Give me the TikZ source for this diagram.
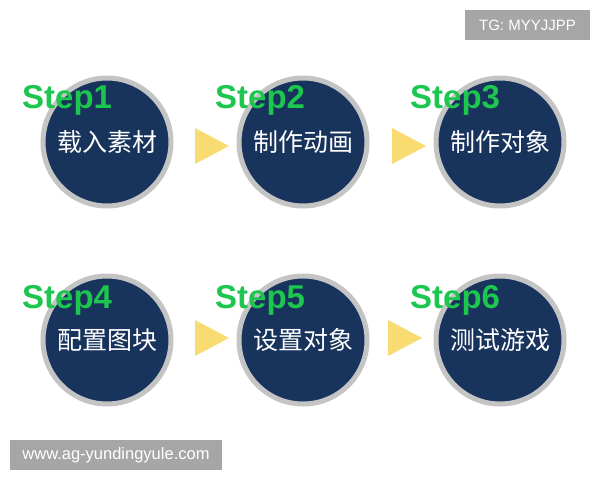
\documentclass[tikz,border=0pt]{standalone}
\usepackage{fontspec}
\setmainfont{Liberation Sans}
\newfontfamily\cjk{Noto Sans CJK SC}
\definecolor{navy}{HTML}{18335C}
\definecolor{ring}{HTML}{C4C4C4}
\definecolor{stepgreen}{HTML}{1DC64E}
\definecolor{tri}{HTML}{F8DC72}
\definecolor{tag}{HTML}{A6A6A6}
\begin{document}
\begin{tikzpicture}[x=1pt,y=-1pt,
  stepcircle/.style={circle,fill=navy,draw=ring,line width=5pt,minimum size=128pt,inner sep=0pt,text=white,font=\cjk\fontsize{25}{25}\selectfont},
  steplabel/.style={anchor=west,text=stepgreen,font=\bfseries\fontsize{33}{33}\selectfont,inner sep=0pt},
  arrowtri/.style={fill=tri,draw=none},
  tagbox/.style={fill=tag,text=white,inner sep=0pt}]
\useasboundingbox (0,0) rectangle (600,480);
\fill[white] (0,0) rectangle (600,480);
% row 1
\node[stepcircle] (c1) at (107,142) {载入素材};
\node[stepcircle] (c2) at (303,142) {制作动画};
\node[stepcircle] (c3) at (500,142) {制作对象};
% row 2
\node[stepcircle] (c4) at (107,340) {配置图块};
\node[stepcircle] (c5) at (303,340) {设置对象};
\node[stepcircle] (c6) at (500,340) {测试游戏};
% labels
\node[steplabel] (s1) at (22,100) {Step1};
\node[steplabel] (s2) at (215,100) {Step2};
\node[steplabel] (s3) at (410,100) {Step3};
\node[steplabel] (s4) at (22,300) {Step4};
\node[steplabel] (s5) at (215,300) {Step5};
\node[steplabel] (s6) at (410,300) {Step6};
% triangles
\fill[arrowtri] (195,128) -- (229,146) -- (195,164) -- cycle;
\fill[arrowtri] (392,128) -- (426,146) -- (392,164) -- cycle;
\fill[arrowtri] (195,320) -- (229,338) -- (195,356) -- cycle;
\fill[arrowtri] (388,320) -- (422,338) -- (388,356) -- cycle;
% tags
\node[tagbox,minimum width=125pt,minimum height=30pt,font=\fontsize{15}{15}\selectfont] (tg) at (527.5,25) {TG: MYYJJPP};
\node[tagbox,minimum width=212pt,minimum height=30pt,font=\fontsize{16.5}{16.5}\selectfont] (www) at (116,455) {www.ag-yundingyule.com};
\end{tikzpicture}
\end{document}
